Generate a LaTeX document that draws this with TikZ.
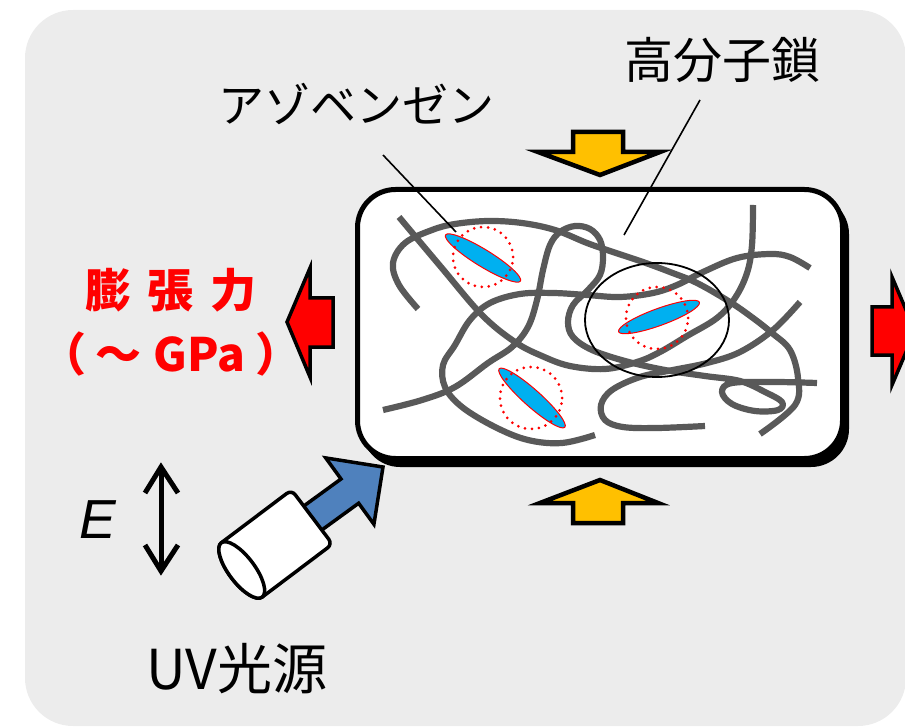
\documentclass[tikz,border=0pt]{standalone}
\usepackage{fontspec}
\newfontfamily\jp{Noto Sans CJK JP}
\newfontfamily\lsans{Liberation Sans}
\usetikzlibrary{calc}
\definecolor{bggray}{RGB}{236,236,236}
\definecolor{chaingray}{RGB}{89,89,89}
\definecolor{azoblue}{RGB}{0,176,240}
\definecolor{uvblue}{RGB}{79,129,189}
\definecolor{forceyellow}{RGB}{255,192,0}
\definecolor{forcered}{RGB}{255,0,0}
\begin{document}
\begin{tikzpicture}[x=1pt,y=-1pt,
  chain/.style={draw=chaingray, line width=6.2pt, line join=round},
  azo/.style={fill=azoblue, draw=forcered, line width=1pt},
  dotring/.style={draw=forcered, line width=3pt, line cap=round, dash pattern=on 0pt off 7pt},
  leader/.style={draw=black, line width=1.6pt},
  yarrow/.style={fill=forceyellow, draw=black, line width=4.5pt, line join=miter},
  rarrow/.style={fill=forcered, draw=black, line width=3.5pt, line join=miter},
  cylbody/.style={fill=white, draw=black, line width=3.5pt, line join=round},
  jplabel/.style={font=\jp\fontsize{#1}{#1}\selectfont, inner sep=0pt},
  forcetext/.style={text=forcered, font=\jp\bfseries\fontsize{46}{46}\selectfont, inner sep=0pt}]
\useasboundingbox (0,0) rectangle (905,727);
\clip (0,0) rectangle (905,727);

% panel background
\fill[bggray, rounded corners=48pt] (25,10) rectangle (906,726);

% sample block with drop shadow
\fill[black, rounded corners=38pt] (362,196) rectangle (849,467);
\draw[fill=white, draw=black, line width=5pt, rounded corners=38pt] (357.5,189.5) rectangle (842.5,458.5);

% polymer chains
\draw[chain] plot[smooth, tension=0.6] coordinates {(418,309) (399,285) (393,263) (405,243) (432,230) (455,224) (488,221) (522,223) (555,230) (587,243) (613,252) (643,262) (670,272) (697,283) (730,302) (753,318) (772,333) (790,350) (798,378) (795,405) (760,434)};
\draw[chain] plot[smooth, tension=0.6] coordinates {(399,217) (441,267) (482,315) (515,342) (542,356) (570,366) (605,369) (637,362) (660,352) (687,336) (717,318) (735,298) (747,273) (752,245) (753,205)};
\draw[chain] plot[smooth, tension=0.6] coordinates {(595,435) (562,443) (528,440) (495,427) (462,407) (445,387) (443,365) (455,345) (470,320) (490,303) (520,294) (553,293) (587,295) (620,297) (653,293) (677,285) (703,272) (737,258) (770,254) (790,257) (810,268)};
\draw[chain] plot[smooth, tension=0.6] coordinates {(800,302) (773,330) (740,352) (707,363) (673,370) (640,377) (612,390) (601,405) (605,420) (623,427) (657,428) (705,426)};
\draw[chain] plot[smooth, tension=0.6] coordinates {(383,410) (422,400) (455,387) (488,363) (512,347) (528,327) (537,300) (543,270) (550,245) (560,232) (575,226) (590,229) (600,240) (603,257) (600,275) (588,290) (573,305) (568,322) (573,337) (592,350) (625,361) (665,370) (705,376) (740,381) (765,392) (782,402) (778,410) (755,411) (732,404) (722,392) (732,383) (775,382) (817,383)};

% azobenzene units
\draw[azo, rotate around={-31.6:(483,258)}] (483,258) ellipse [x radius=44pt, y radius=8.5pt];
\draw[azo, rotate around={20:(659,317)}] (659,317) ellipse [x radius=43pt, y radius=8.5pt];
\draw[azo, rotate around={-41.7:(532,398)}] (532,398) ellipse [x radius=44pt, y radius=8.5pt];
\draw[dotring] (483,257) circle [radius=30pt];
\draw[dotring] (657,318) circle [radius=31pt];
\draw[dotring] (531,398) circle [radius=31pt];

% highlighted region
\draw[black, line width=1.8pt] (657,320) ellipse [x radius=72pt, y radius=57pt];

% labels and leaders
\node[jplabel=46] (azoLabel) at (356,104) {アゾベンゼン};
\node[jplabel=49] (chainLabel) at (722,60) {高分子鎖};
\coordinate (azoFrom) at (383,155);
\coordinate (azoTo) at (456,232);
\coordinate (chainFrom) at (700,100);
\coordinate (chainTo) at (624,235);
\draw[leader] (azoFrom) -- (azoTo);
\draw[leader] (chainFrom) -- (chainTo);

% compressive load arrows
\draw[yarrow] (573,132) -- (623,132) -- (623,152) -- (660,152) -- (600,175) -- (538,152) -- (573,152) -- cycle;
\draw[yarrow] (600,480) -- (658,503) -- (623,503) -- (623,523) -- (573,523) -- (573,503) -- (540,503) -- cycle;

% expansion arrows
\draw[rarrow] (287,322) -- (310,268) -- (310,298) -- (333,298) -- (333,347) -- (310,347) -- (310,377) -- cycle;
\draw[rarrow] (915,331) -- (892,277) -- (892,307) -- (872,307) -- (872,355) -- (892,355) -- (892,385) -- cycle;
\node[forcetext] (forceLabel) at (171,290) {膨\hspace{17pt}張\hspace{17pt}力};
\node[forcetext] (forceUnit) at (171,354) {（\hspace{9pt}～\hspace{12pt}GPa\hspace{10pt}）};

% polarisation
\coordinate (polTop) at (161,467);
\coordinate (polBot) at (161,571);
\draw[line width=5pt] (polTop) -- (polBot);
\draw[line width=5pt, line join=miter] ($(polTop)+(-16,26)$) -- (polTop) -- ($(polTop)+(17,26)$);
\draw[line width=5pt, line join=miter] ($(polBot)+(-16,-26)$) -- (polBot) -- ($(polBot)+(17,-26)$);
\node[font=\lsans\itshape\fontsize{55}{55}\selectfont, inner sep=0pt] (efield) at (98,520) {E};

% UV beam
\begin{scope}[shift={(383,467)}, rotate=36]
  \draw[fill=uvblue, draw=black, line width=3.5pt, line join=miter]
    (0,0) -- (-41,41) -- (-41,15) -- (-92,15) -- (-92,-15) -- (-41,-15) -- (-41,-41) -- cycle;
\end{scope}

% UV lamp housing
\begin{scope}[shift={(312,517)}, rotate=37]
  \draw[cylbody] (-88,-34) [rounded corners=6pt] -- (0,-34) -- (0,34) [sharp corners] -- (-88,34)
     arc[start angle=270, end angle=90, x radius=13pt, y radius=34pt] -- cycle;
  \draw[cylbody] (-88,0) ellipse [x radius=13pt, y radius=34pt];
\end{scope}
\node[jplabel=55] (uvLabel) at (237,669) {UV光源};
\end{tikzpicture}
\end{document}
